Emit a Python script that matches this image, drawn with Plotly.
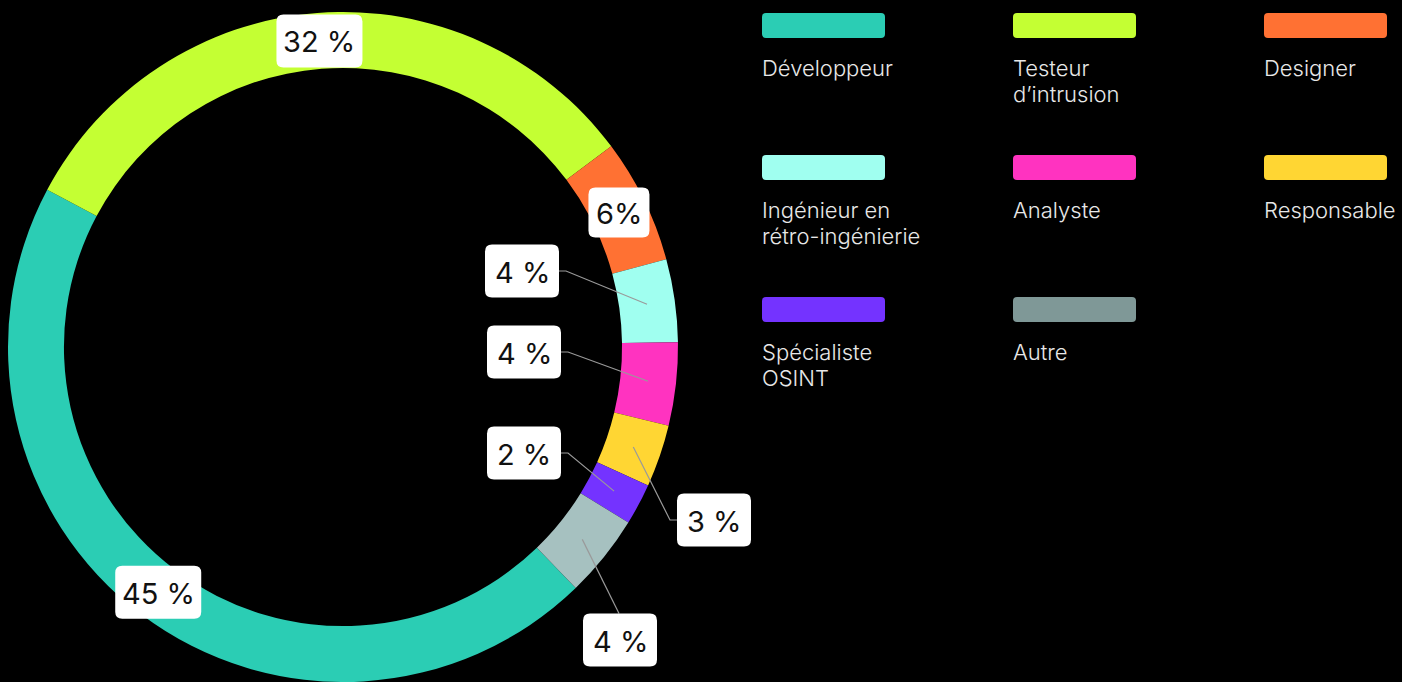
import math
import plotly.graph_objects as go

# ---- data ----
categories = ["Développeur", "Testeur d’intrusion", "Designer", "Ingénieur en rétro-ingénierie",
              "Analyste", "Responsable", "Spécialiste OSINT", "Autre"]
legend_lines = [["Développeur"], ["Testeur", "d’intrusion"], ["Designer"],
                ["Ingénieur en", "rétro-ingénierie"], ["Analyste"], ["Responsable"],
                ["Spécialiste", "OSINT"], ["Autre"]]
values = [45, 32, 6, 4, 4, 3, 2, 4]
label_texts = ["45 %", "32 %", "6%", "4 %", "4 %", "3 %", "2 %", "4 %"]
slice_colors = ["#2bcdb4", "#c4ff33", "#ff7133", "#a0fff0", "#ff33c0", "#ffd633", "#7433ff", "#a6c1c0"]
legend_colors = ["#2bcdb4", "#c4ff33", "#ff7133", "#a0fff0", "#ff33c0", "#ffd633", "#7433ff", "#7f9897"]

# ---- layout constants ----
W, H = 1402, 682
ROT = 136
HOLE = 0.833
dom_x = [8 / W, 678 / W]
dom_y = [0.0, 670 / H]

cx = W * (dom_x[0] + dom_x[1]) / 2
cy = H * (1 - (dom_y[0] + dom_y[1]) / 2)
r_out = min(W * (dom_x[1] - dom_x[0]), H * (dom_y[1] - dom_y[0])) / 2
r_mid = r_out * (1 + HOLE) / 2

fig = go.Figure()
fig.add_trace(go.Pie(
    labels=categories, values=values, sort=False, direction="clockwise",
    rotation=ROT, hole=HOLE, textinfo="none", hoverinfo="skip",
    marker=dict(colors=slice_colors, line=dict(width=0)),
    domain=dict(x=dom_x, y=dom_y), showlegend=False,
))
# invisible pixel-space axes for overlays
fig.add_trace(go.Scatter(x=[0, W], y=[0, H], mode="markers", marker=dict(opacity=0),
                         hoverinfo="skip", showlegend=False))

# slice mid points
total = sum(values)
mids = []
cum = 0
for v in values:
    a = math.radians(ROT + 360 * (cum + v / 2) / total)
    mids.append((cx + r_mid * math.sin(a), cy - r_mid * math.cos(a)))
    cum += v

def rrect(x0, y0, x1, y1, r):
    return (f"M{x0+r},{y0} L{x1-r},{y0} Q{x1},{y0} {x1},{y0+r} L{x1},{y1-r} Q{x1},{y1} {x1-r},{y1} "
            f"L{x0+r},{y1} Q{x0},{y1} {x0},{y1-r} L{x0},{y0+r} Q{x0},{y0} {x0+r},{y0} Z")

shapes = []
annotations = []
# label boxes: None -> box sits on slice mid; otherwise box center with leader line
box_centers = [None, None, None, (522, 271), (524, 352), (714, 520), (524, 453), (620, 640)]
box_w = {1: 74, 2: 86}
BOX_H = 53
for i, (txt, mid) in enumerate(zip(label_texts, mids)):
    c = box_centers[i] if box_centers[i] is not None else mid
    nd = sum(ch.isdigit() for ch in txt)
    bw = box_w[nd] if txt != "6%" else 61
    bh = BOX_H if txt != "6%" else 50
    x0, x1 = c[0] - bw / 2, c[0] + bw / 2
    y0, y1 = c[1] - bh / 2, c[1] + bh / 2
    if box_centers[i] is not None:
        if mid[1] < y0 - 20 and abs(mid[0] - c[0]) < 60:
            pts = [(c[0] - 1, y0), mid]
        elif mid[0] > x1:
            pts = [(x1, c[1]), (x1 + 7, c[1]), mid]
        else:
            pts = [(x0, c[1]), (x0 - 7, c[1]), mid]
        path = "M" + " L".join(f"{p[0]},{p[1]}" for p in pts)
        shapes.append(dict(type="path", path=path, xref="x", yref="y", layer="above",
                           line=dict(color="#9a9a9a", width=1.2)))
    shapes.append(dict(type="path", path=rrect(x0, y0, x1, y1, 7), xref="x", yref="y",
                       layer="above", fillcolor="white", line=dict(width=0)))
    annotations.append(dict(x=c[0], y=c[1] + 1, xref="x", yref="y", text=txt, showarrow=False,
                            xanchor="center", yanchor="middle",
                            font=dict(family="Inter", size=29, color="#111111")))

# legend grid
col_x = [762, 1013, 1264]
row_y = [13, 155, 297]
SW_W, SW_H = 123, 25
for i, (lines, col) in enumerate(zip(legend_lines, legend_colors)):
    x0 = col_x[i % 3]
    y0 = row_y[i // 3]
    shapes.append(dict(type="path", path=rrect(x0, y0, x0 + SW_W, y0 + SW_H, 4), xref="x", yref="y",
                       layer="above", fillcolor=col, line=dict(width=0)))
    for k, ln in enumerate(lines):
        annotations.append(dict(x=x0 - 2, y=y0 + 55 + 26 * k, xref="x", yref="y", text=ln,
                                showarrow=False, xanchor="left", yanchor="middle",
                                font=dict(family="Inter", size=22, color="#e8e8e8", weight=300)))

fig.update_layout(
    width=W, height=H, margin=dict(l=0, r=0, t=0, b=0),
    paper_bgcolor="black", plot_bgcolor="black",
    xaxis=dict(range=[0, W], visible=False, domain=[0, 1], fixedrange=True),
    yaxis=dict(range=[H, 0], visible=False, domain=[0, 1], fixedrange=True),
    shapes=shapes, annotations=annotations,
)
fig.write_html("out.html", config={"displayModeBar": False},
               post_script="document.body.style.margin='0';document.body.style.background='black';"
                           "document.documentElement.style.overflow='hidden';")
